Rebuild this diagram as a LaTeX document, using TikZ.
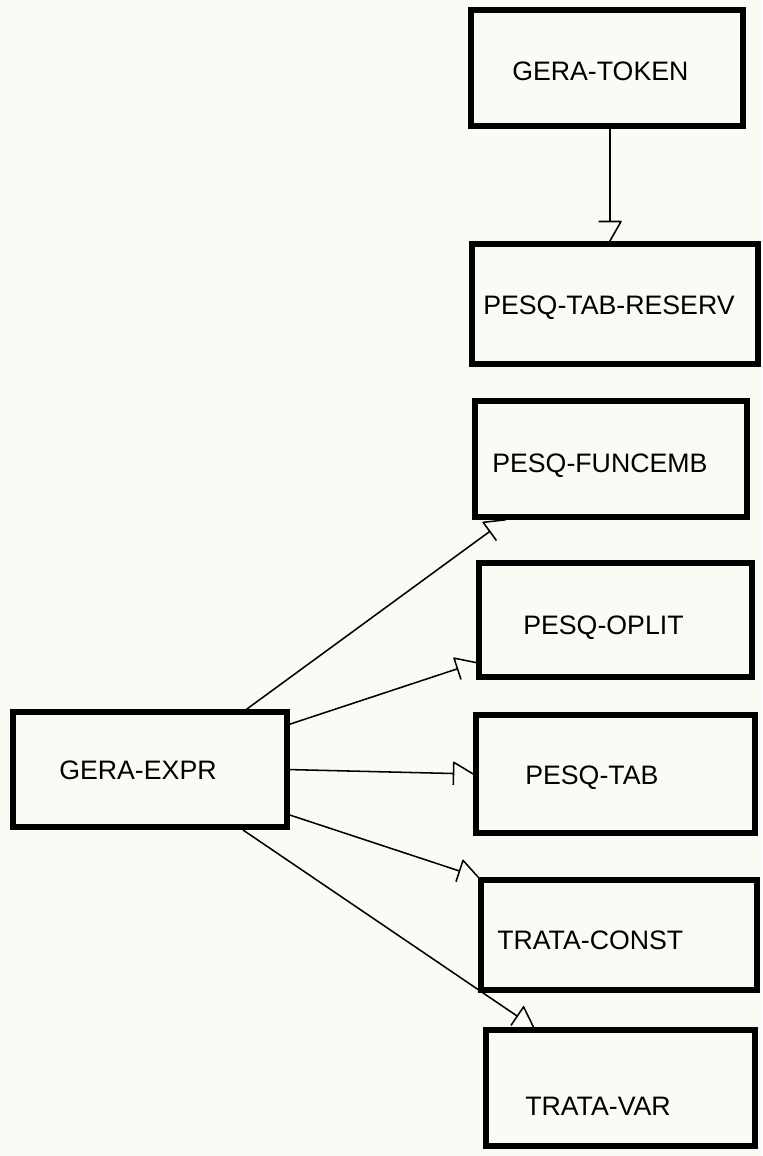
\documentclass[tikz,border=0pt]{standalone}
\usepackage{fontspec}
\setmainfont{Liberation Sans}
\usepackage{tikz}

\definecolor{paper}{RGB}{251,251,246}

% half open tip: a cross bar on the shaft and one slanted stroke to the point
\pgfdeclarearrow{
  name = Fork,
  setup code = {
    \pgfarrowssettipend{0pt}
    \pgfarrowssetlineend{-14pt}
    \pgfarrowssetbackend{-14pt}
    \pgfarrowssetvisualbackend{-14pt}
  },
  drawing code = {
    \pgfsetdash{}{0pt}
    \pgfsetroundjoin
    \pgfpathmoveto{\pgfqpoint{-14pt}{-8pt}}
    \pgfpathlineto{\pgfqpoint{-14pt}{8pt}}
    \pgfpathlineto{\pgforigin}
    \pgfusepathqstroke
  }
}

\begin{document}
\begin{tikzpicture}[box/.style={draw, line width=4pt, inner sep=0pt},
  lbl/.style={anchor=base west, inner sep=0pt, font=\fontsize{19}{22}\selectfont},
  link/.style={line width=1.1pt, -Fork}]
\fill[paper] (0,0) rectangle (19.05,28.9);
\useasboundingbox (0,0) rectangle (19.05,28.9);
%scanner
\node[box, minimum width=6.8cm, minimum height=2.9cm] (token) at (15.175,27.2) {};
\node[lbl] (tokentxt) at (12.8,26.875) {GERA-TOKEN};
\node[box, minimum width=7.15cm, minimum height=3cm] (reserv) at (15.375,21.3) {};
\node[lbl] (reservtxt) at (12.075,21.025) {PESQ-TAB-RESERV};
\draw[link] ([xshift=2pt]token.south) -- ([xshift=2pt]token.south |- reserv.north);
%expressions
\node[box, minimum width=6.85cm, minimum height=2.88cm] (expr) at (3.75,9.66) {};
\node[lbl] (exprtxt) at (1.475,9.4) {GERA-EXPR};
\node[box, minimum width=6.8cm, minimum height=2.9cm] (funcemb) at (15.275,17.425) {};
\node[lbl] (funcembtxt) at (12.3,17.075) {PESQ-FUNCEMB};
\node[box, minimum width=6.83cm, minimum height=2.85cm] (oplit) at (15.39,13.4) {};
\node[lbl] (oplittxt) at (13.075,13.025) {PESQ-OPLIT};
\node[box, minimum width=6.98cm, minimum height=2.95cm] (tab) at (15.39,9.55) {};
\node[lbl] (tabtxt) at (13.125,9.275) {PESQ-TAB};
\node[box, minimum width=6.9cm, minimum height=2.75cm] (const) at (15.475,5.525) {};
\node[lbl] (consttxt) at (12.425,5.15) {TRATA-CONST};
\node[box, minimum width=6.73cm, minimum height=2.9cm] (var) at (15.51,1.7) {};
\node[lbl] (vartxt) at (13.125,1.025) {TRATA-VAR};
\draw[link] (expr.32) -- (funcemb.210);
\draw[link] (expr.18.6) -- (oplit.197.5);
\draw[link] (expr.east) -- (tab.west);
\draw[link] (expr.-18) -- (const.north west);
\draw[link] (expr.-33.5) -- (var.145.7);
\end{tikzpicture}
\end{document}
